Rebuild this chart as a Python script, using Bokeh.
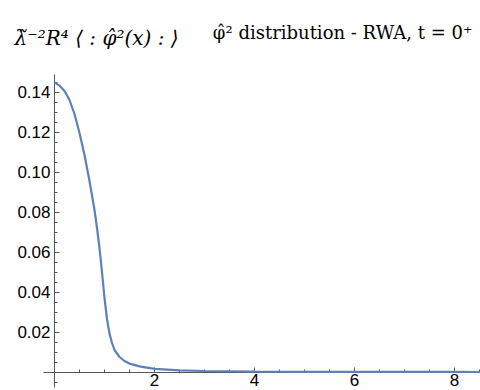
from bokeh.plotting import figure
from bokeh.models import Range1d, FixedTicker, Label
from bokeh.embed import file_html
from bokeh.resources import INLINE

# data
r_vals = [0.0, 0.1, 0.2, 0.3, 0.4, 0.5, 0.6, 0.7, 0.8, 0.85, 0.9, 0.95, 1.0,
          1.05, 1.1, 1.15, 1.2, 1.3, 1.4, 1.5, 1.7, 2.0, 2.5, 3.0, 4.0, 5.0,
          6.0, 7.0, 8.0, 8.6]
phi2_vals = [0.1448, 0.1432, 0.1405, 0.1360, 0.1290, 0.1195, 0.1085, 0.0955,
             0.0810, 0.0720, 0.0620, 0.0500, 0.0370, 0.0265, 0.0192, 0.0145,
             0.0110, 0.0075, 0.0055, 0.0042, 0.0028, 0.0016, 0.0008, 0.0005,
             0.0002, 0.0001, 0.00005, 0.00003, 0.00002, 0.00001]

x_ticks = [2, 4, 6, 8]
x_tick_labels = ["2", "4", "6", "8"]
y_ticks = [0.02, 0.04, 0.06, 0.08, 0.10, 0.12, 0.14]
y_tick_labels = ["0.02", "0.04", "0.06", "0.08", "0.10", "0.12", "0.14"]

title_text = "\u03c6\u0302\u00b2 distribution - RWA, t = 0\u207a"
ylabel_text = "\u03bb\u0303\u207b\u00b2R\u2074 \u27e8 : \u03c6\u0302\u00b2(x) : \u27e9"

x_minor = [i * 0.5 for i in range(0, 18)]
y_minor = [i * 0.005 for i in range(-1, 30)]

W, H = 480, 390
p = figure(width=W, height=H, output_backend="svg", toolbar_location=None,
           x_range=Range1d(-1.08, 8.52), y_range=Range1d(-0.00925, 0.18575),
           min_border_left=0, min_border_right=0, min_border_top=0,
           min_border_bottom=0)
p.outline_line_color = None
p.grid.visible = False
p.background_fill_color = "white"
p.border_fill_color = "white"

p.line(r_vals, phi2_vals, line_color="#5E81B5", line_width=2.2, level="overlay")

for ax in (p.xaxis[0], p.yaxis[0]):
    ax.fixed_location = 0
    ax.axis_line_color = "#555555"
    ax.axis_line_width = 1
    ax.major_tick_line_color = "#555555"
    ax.minor_tick_line_color = "#555555"
    ax.major_tick_in = 5
    ax.major_tick_out = 0
    ax.minor_tick_in = 3
    ax.minor_tick_out = 0
    ax.major_label_text_font = "Liberation Sans"
    ax.major_label_text_font_size = "17px"
    ax.major_label_text_color = "black"

p.xaxis[0].bounds = (-0.22, 8.52)
p.xaxis[0].ticker = FixedTicker(ticks=x_ticks, minor_ticks=x_minor)
p.xaxis[0].major_label_overrides = {t: l for t, l in zip(x_ticks, x_tick_labels)}
p.xaxis[0].major_label_standoff = 2
p.yaxis[0].bounds = (-0.0075, 0.149)
p.yaxis[0].ticker = FixedTicker(ticks=y_ticks, minor_ticks=y_minor)
p.yaxis[0].major_label_overrides = {t: l for t, l in zip(y_ticks, y_tick_labels)}
p.yaxis[0].major_label_standoff = 4

p.add_layout(Label(x=472, y=H - 32, x_units="screen", y_units="screen",
                   text=title_text, text_align="right", text_baseline="alphabetic",
                   text_font="DejaVu Serif", text_font_size="18px",
                   text_color="black"))
p.add_layout(Label(x=14, y=H - 37, x_units="screen", y_units="screen",
                   text=ylabel_text, text_align="left", text_baseline="alphabetic",
                   text_font="DejaVu Serif", text_font_size="20px",
                   text_font_style="italic", text_color="black"))

open("out.html", "w").write(file_html(p, INLINE))
